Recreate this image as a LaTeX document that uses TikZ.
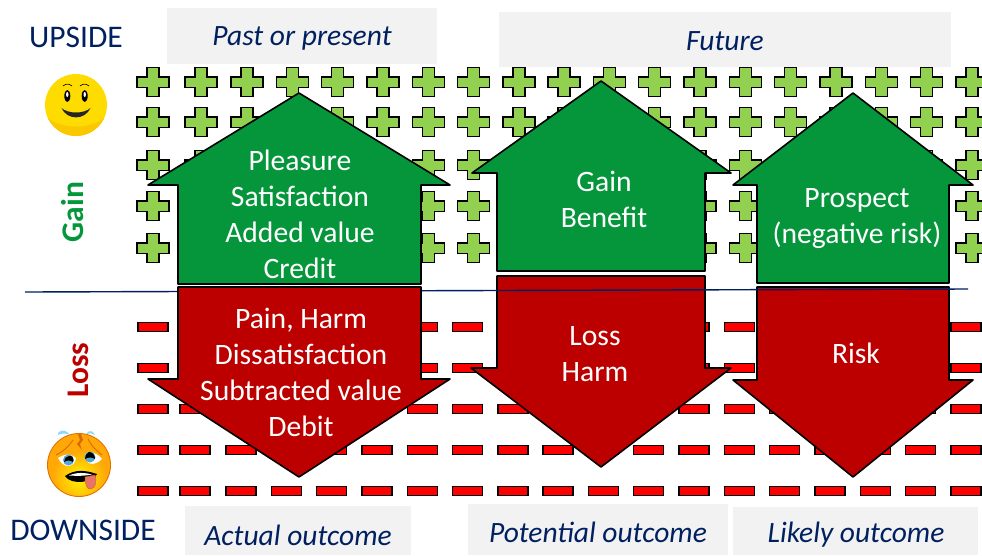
\documentclass[tikz,border=0pt]{standalone}
\usepackage{fontspec}
\setmainfont{Carlito}
\definecolor{navy}{HTML}{002060}
\definecolor{boxgrey}{HTML}{F2F2F2}
\definecolor{upgreen}{HTML}{05963C}
\definecolor{downred}{HTML}{BC0000}
\definecolor{plusgreen}{HTML}{92D050}
\definecolor{gold}{HTML}{FFDC00}
\definecolor{darkgold}{HTML}{FBC800}
\definecolor{sadorange}{HTML}{FFA808}
\definecolor{sadyellow}{HTML}{FFF400}
\definecolor{browbrown}{HTML}{D96A00}
\definecolor{irisblue}{HTML}{4FA8DC}
\definecolor{tonguepink}{HTML}{E8726E}
\tikzset{
  px/.style={x=1pt,y=-1pt},
  greybox/.style={fill=boxgrey,draw=none},
  headtxt/.style={text=navy,font=\fontsize{31.5}{34}\selectfont,inner sep=0pt},
  boxtxt/.style={text=navy,font=\fontsize{29.5}{32}\selectfont\itshape,inner sep=0pt},
  arrowtxt/.style={text=white,font=\fontsize{29.6}{36}\selectfont,align=center,inner sep=0pt},
  sidetxt/.style={font=\fontsize{31.5}{34}\selectfont\bfseries,rotate=90,inner sep=0pt},
  uparrow/.style={fill=upgreen,draw=black,line width=1.6pt,line join=round},
  downarrow/.style={fill=downred,draw=black,line width=1.6pt,line join=round},
  plusshape/.style={fill=plusgreen,draw=black,line width=1.4pt},
  dashshape/.style={fill=red,draw=black,line width=1.4pt},
}
\newcommand{\plusat}[2]{\draw[plusshape,shift={(#1,#2)}] (-16,-5) -- (-6,-5) -- (-6,-14.5) -- (6,-14.5) -- (6,-5) -- (16,-5) -- (16,5.5) -- (6,5.5) -- (6,14.5) -- (-6,14.5) -- (-6,5.5) -- (-16,5.5) -- cycle;}
\newcommand{\dashat}[2]{\draw[dashshape,shift={(#1,#2)}] (-15,-4.5) rectangle (15,4.5);}
\begin{document}
\begin{tikzpicture}[px]
\useasboundingbox (0,0) rectangle (982,555);
% grey boxes
\fill[greybox] (167,8) rectangle (437,64);
\fill[greybox] (499,12) rectangle (951,67);
\fill[greybox] (185,506) rectangle (411,555);
\fill[greybox] (468,504) rectangle (728,555);
\fill[greybox] (733,507) rectangle (978,555);
% plus pattern
\foreach \yy in {82,122,165,206,248}{
  \plusat{153}{\yy}
  \plusat{201}{\yy}
  \foreach \k in {0,...,16}{
    \pgfmathsetmacro{\xx}{247+45.3*\k}
    \plusat{\xx}{\yy}
  }
}
% dash pattern
\foreach \yy in {327,368,409,450,491}{
  \dashat{153}{\yy}
  \dashat{195}{\yy}
  \foreach \k in {0,...,16}{
    \pgfmathsetmacro{\xx}{241+45.3*\k}
    \dashat{\xx}{\yy}
  }
}
% arrows under the divider
\draw[uparrow] (601,81) -- (731,173) -- (705,173) -- (705,271) -- (497,271) -- (497,173) -- (472,173) -- cycle;
\draw[downarrow] (601,467) -- (731,368) -- (705,368) -- (705,276) -- (497,276) -- (497,368) -- (471,368) -- cycle;
\draw[uparrow] (853,93) -- (973,185) -- (949,185) -- (949,283) -- (757,283) -- (757,185) -- (733,185) -- cycle;
\draw[downarrow] (853,477) -- (973,380) -- (949,380) -- (949,287) -- (757,287) -- (757,380) -- (733,380) -- cycle;
% divider
\coordinate (divL) at (25,292);
\coordinate (divR) at (968,289);
\draw[navy,line width=1.4pt] (divL) -- (divR);
% first pair lies over the divider
\draw[uparrow] (299,93) -- (450,185) -- (421,185) -- (421,284) -- (178,284) -- (178,185) -- (148,185) -- cycle;
\draw[downarrow] (299,477) -- (450,379) -- (421,379) -- (421,287) -- (178,287) -- (178,379) -- (148,379) -- cycle;
% labels
\node[headtxt] (upside) at (76,37) {UPSIDE};
\node[headtxt] (downside) at (83,530) {DOWNSIDE};
\node[boxtxt] (past) at (302,38) {Past or present};
\node[boxtxt] (future) at (725,41) {Future};
\node[boxtxt] (actual) at (298,535) {Actual outcome};
\node[boxtxt] (potential) at (598,532) {Potential outcome};
\node[boxtxt] (likely) at (856,535) {Likely outcome};
\node[sidetxt,text=upgreen] (gain) at (73,212) {Gain};
\node[sidetxt,text=downred] (loss) at (78,370) {Loss};
\node[arrowtxt] (t1) at (300,214) {Pleasure\\Satisfaction\\Added value\\Credit};
\node[arrowtxt] (t2) at (301,372) {Pain, Harm\\Dissatisfaction\\Subtracted value\\Debit};
\node[arrowtxt] (t3) at (604,199) {Gain\\Benefit};
\node[arrowtxt] (t4) at (595,354) {Loss\\Harm};
\node[arrowtxt] (t5) at (857,219) {Prospect\\(negative risk)};
\node[arrowtxt] (t6) at (856,353) {Risk};
% happy face
\begin{scope}[shift={(76,105)}]
  \fill[gold] (0,0) circle (31);
  \begin{scope}
    \clip (0,0) circle (31);
    \fill[darkgold] (-32,8) .. controls (-22,26) and (22,26) .. (32,8) -- (32,34) -- (-32,34) -- cycle;
  \end{scope}
  \fill[black] (-8.7,-9) ellipse (3 and 6);
  \fill[black] (8.7,-9) ellipse (3 and 6);
  \fill[white] (-8.7,-10.5) ellipse (1.2 and 2.6);
  \fill[white] (8.7,-10.5) ellipse (1.2 and 2.6);
  \draw[black,line width=.6pt] (-13,-19) .. controls (-10,-21.5) and (-7,-21.5) .. (-4,-19);
  \draw[black,line width=.6pt] (4,-19) .. controls (7,-21.5) and (10,-21.5) .. (13,-19);
  \fill[black!85] (-14.5,3) .. controls (-8,9) and (8,9) .. (14.5,3) .. controls (9,15.5) and (-9,15.5) .. (-14.5,3) -- cycle;
\end{scope}
% sad face
\begin{scope}[shift={(79,465)}]
  \fill[sadorange] (0,0) circle (31.5);
  \begin{scope}
    \clip (0,0) circle (31.5);
    \shade[inner color=sadyellow,outer color=sadorange] (0,13) circle (27);
  \end{scope}
  \draw[browbrown!70!orange,line width=.9pt] (0,0) circle (31.5);
  \fill[browbrown] (-1,-31) -- (1,-25) -- (-2,-21) -- (3,-15) -- (1,-21) -- (4,-25) -- (2,-31) -- cycle;
  \fill[cyan!45!white] (-21,-32) .. controls (-18,-36) and (-12,-35) .. (-9,-30) .. controls (-13,-32) and (-17,-32) .. (-21,-30) -- cycle;
  \fill[cyan!45!white] (7,-31) .. controls (10,-35) and (14,-35) .. (16,-30) .. controls (13,-32) and (10,-32) .. (7,-31) -- cycle;
  \draw[browbrown,line width=.9pt] (-23,-10) .. controls (-16,-13) and (-11,-18) .. (-6,-25);
  \draw[browbrown,line width=.9pt] (23,-10) .. controls (18,-14) and (13,-18) .. (9,-26);
  \fill[white] (-21,-7) .. controls (-15,-11) and (-9,-12) .. (-3,-7) .. controls (-4,2) and (-15,5) .. (-21,-7) -- cycle;
  \fill[white] (6,-11) .. controls (11,-15) and (18,-12) .. (23,-6) .. controls (15,2) and (6,0) .. (6,-11) -- cycle;
  \fill[irisblue] (-10.5,-5) circle (5.5);
  \fill[irisblue] (11,-8) circle (5.5);
  \fill[black] (-10,-9) .. controls (-6,-10) and (-5,-5) .. (-6,-3) .. controls (-9,-5) and (-12,-5) .. (-15,-3) .. controls (-15,-6) and (-13,-9) .. (-10,-9) -- cycle;
  \fill[black] (10,-13) .. controls (14,-13) and (16,-9) .. (16,-6) .. controls (13,-8) and (9,-8) .. (6,-6) .. controls (6,-9) and (7,-12) .. (10,-13) -- cycle;
  \fill[black] (-14,11) .. controls (-4,4) and (6,5) .. (18,9) .. controls (16,17) and (-8,21) .. (-14,11) -- cycle;
  \fill[white] (-10,10.5) .. controls (-2,7) and (6,7.5) .. (13,9.5) .. controls (6,11) and (-2,11) .. (-10,10.5) -- cycle;
  \fill[tonguepink,draw=browbrown,line width=.4pt] (6,12) .. controls (6,20) and (8,25) .. (12,24) .. controls (17,23) and (18,16) .. (16,10) -- cycle;
\end{scope}
\end{tikzpicture}
\end{document}
